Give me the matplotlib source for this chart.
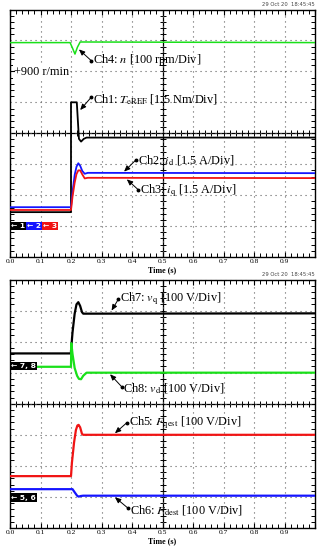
import matplotlib
matplotlib.use("Agg")
import matplotlib.pyplot as plt
import numpy as np

plt.rcParams['font.family'] = ['Liberation Serif', 'DejaVu Serif']
plt.rcParams['mathtext.fontset'] = 'stix'

# --- data (in scope divisions, centre line = 0) ---
t_n = [0, 0.197, 0.205, 0.213, 0.221, 0.23, 1.0]
n_speed = [2.93, 2.93, 2.75, 2.56, 2.78, 2.95, 2.93]

t_te = [0, 0.2, 0.2, 0.219, 0.226, 0.233, 0.242, 0.251, 1.0]
te_ref = [-2.55, -2.55, 1.0, 1.0, -0.18, -0.27, -0.18, -0.14, -0.14]

t_i = [0, 0.2, 0.205, 0.212, 0.218, 0.224, 0.23, 0.237, 0.245, 0.255, 1.0]
i_d = [-2.39, -2.39, -1.9, -1.35, -1.08, -0.97, -1.05, -1.22, -1.31, -1.28, -1.29]
i_q = [-2.48, -2.48, -2.05, -1.6, -1.32, -1.2, -1.2, -1.33, -1.46, -1.44, -1.45]

t_vq = [0, 0.2, 0.2, 0.205, 0.212, 0.218, 0.224, 0.23, 0.236, 0.24, 1.0]
v_q = [1.62, 1.62, 1.7, 2.3, 2.9, 3.2, 3.27, 3.15, 2.95, 2.9, 2.91]

t_vd = [0, 0.2, 0.201, 0.205, 0.212, 0.22, 0.226, 0.233, 0.24, 0.251, 1.0]
v_d = [1.19, 1.19, 1.95, 1.6, 1.15, 0.9, 0.8, 0.79, 0.9, 1.0, 1.0]

t_fq = [0, 0.2, 0.203, 0.21, 0.216, 0.221, 0.225, 0.23, 0.236, 0.24, 1.0]
f_qest = [-2.33, -2.33, -1.9, -1.25, -0.85, -0.7, -0.68, -0.76, -0.97, -1.0, -1.0]

t_fd = [0, 0.205, 0.212, 0.22, 0.225, 0.232, 0.24, 1.0]
f_dest = [-2.75, -2.75, -2.85, -2.96, -2.99, -2.97, -2.96, -2.96]

x_ticks = [0.0, 0.1, 0.2, 0.3, 0.4, 0.5, 0.6, 0.7, 0.8, 0.9]
stamp = "29 Oct 20  18:45:45"

GREEN = "#19e019"
BLUE = "#1414ff"
RED = "#f01414"


def scope_axes(fig, rect):
    ax = fig.add_axes(rect)
    ax.set_xlim(0, 1.0)
    ax.set_ylim(-4, 4)
    ax.set_xticks(np.arange(0, 1.0001, 0.1))
    ax.set_xticklabels(["%.1f" % v for v in x_ticks] + [""], fontsize=5.4)
    ax.set_xticks(np.arange(0, 1.0001, 0.02), minor=True)
    ax.set_yticks(np.arange(-4, 4.01, 1))
    ax.set_yticklabels([])
    ax.set_yticks(np.arange(-4, 4.01, 0.2), minor=True)
    ax.tick_params(which='both', direction='in', top=True, right=True, pad=1.5, color='black')
    ax.tick_params(which='major', length=3.5, width=0.8)
    ax.tick_params(which='minor', length=3.0, width=0.7)
    ax.tick_params(axis='y', which='major', length=0)
    ax.grid(True, which='major', color='#606060', linestyle=(0, (1, 3.5)), lw=0.8)
    for s in ax.spines.values():
        s.set_linewidth(1.0)
    # centre cross with ticks
    ax.axhline(0, color='black', lw=0.9, zorder=1)
    ax.axvline(0.5, color='black', lw=0.9, zorder=1)
    xs = np.arange(0, 1.0001, 0.02)
    ax.plot(xs, np.zeros_like(xs), ls='none', marker='|', ms=4.5, mew=0.7, color='black', zorder=1)
    ys = np.arange(-4, 4.01, 0.2)
    ax.plot(np.full_like(ys, 0.5), ys, ls='none', marker='_', ms=4.5, mew=0.7, color='black', zorder=1)
    ax.set_xlabel("Time (s)", fontsize=5.8, fontweight='bold', labelpad=1.5)
    return ax


def label(ax, text, dot, head, txt):
    ax.annotate("", xy=head, xytext=dot,
                arrowprops=dict(arrowstyle='-|>,head_length=0.35,head_width=0.15', color='black', lw=0.7,
                                shrinkA=0, shrinkB=0), zorder=6)
    ax.plot([dot[0]], [dot[1]], marker='o', ms=1.8, color='black', zorder=6)
    ax.text(txt[0], txt[1], text, fontsize=8.8, va='center', ha='left', zorder=6)


def ground(ax, y, items):
    x = 0.003
    for txt, col in items:
        ax.text(x, y, txt, fontsize=5.4, color='white', fontweight='bold', family='DejaVu Sans',
                va='center', ha='left', transform=ax.get_yaxis_transform(), zorder=7,
                bbox=dict(boxstyle='square,pad=0.15', fc=col, ec='none'))
        x += 0.053


fig = plt.figure(figsize=(3.21, 5.5), dpi=100)

# ---------------- top panel ----------------
ax1 = scope_axes(fig, [10 / 321, 1 - 257 / 550, 305 / 321, 247.5 / 550])
ax1.plot(t_n, n_speed, color=GREEN, lw=1.1, zorder=3)
ax1.plot(t_te, te_ref, color='black', lw=1.3, zorder=3)
ax1.plot(t_i, i_d, color=BLUE, lw=1.3, zorder=3)
ax1.plot(t_i, i_q, color=RED, lw=1.3, zorder=3)

label(ax1, "Ch4: $n$ [100 rpm/Div]", (0.266, 2.35), (0.226, 2.71), (0.272, 2.37))
label(ax1, r"Ch1: $T_{\mathrm{eREF}}$ [1.5 Nm/Div]", (0.266, 1.16), (0.23, 0.75), (0.272, 1.12))
label(ax1, r"Ch2: $i_{\mathrm{d}}$ [1.5 A/Div]", (0.413, -0.86), (0.374, -1.24), (0.419, -0.86))
label(ax1, r"Ch3: $i_{\mathrm{q}}$ [1.5 A/Div]", (0.421, -1.83), (0.383, -1.49), (0.427, -1.86))
ax1.text(0.012, 1.98, "+900 r/min", fontsize=8.8, va='center', ha='left', zorder=6,
         bbox=dict(boxstyle='square,pad=0.05', fc='white', ec='none'))
ax1.plot([0, 0.012], [2.0, 2.0], color='black', lw=0.8, zorder=6)
ground(ax1, -3.0, [("\u2190 1", 'black'), ("\u2190 2", BLUE), ("\u2190 3", RED)])
fig.text(315 / 321, 1 - 5 / 550, stamp, fontsize=3.8, ha='right', va='center', color='#444444',
         family='DejaVu Sans')

# ---------------- bottom panel ----------------
ax2 = scope_axes(fig, [10 / 321, 1 - 528 / 550, 305 / 321, 248.5 / 550])
ax2.plot(t_vq, v_q, color='black', lw=1.6, zorder=3)
ax2.plot(t_vd, v_d, color=GREEN, lw=1.6, zorder=3)
ax2.plot(t_fq, f_qest, color=RED, lw=1.6, zorder=3)
ax2.plot(t_fd, f_dest, color=BLUE, lw=1.6, zorder=3)

label(ax2, r"Ch7: $v_{\mathrm{q}}$ [100 V/Div]", (0.355, 3.36), (0.333, 3.0), (0.361, 3.37))
label(ax2, r"Ch8: $v_{\mathrm{d}}$ [100 V/Div]", (0.366, 0.55), (0.328, 0.95), (0.372, 0.52))
label(ax2, r"Ch5: $F_{\mathrm{qest}}$ [100 V/Div]", (0.383, -0.61), (0.344, -0.95), (0.389, -0.61))
label(ax2, r"Ch6: $F_{\mathrm{dest}}$ [100 V/Div]", (0.388, -3.37), (0.344, -3.01), (0.394, -3.42))
ground(ax2, 1.22, [("\u2190 7, 8", 'black')])
ground(ax2, -3.02, [("\u2190 5, 6", 'black')])
fig.text(315 / 321, 1 - 275 / 550, stamp, fontsize=3.8, ha='right', va='center', color='#444444',
         family='DejaVu Sans')

fig.savefig("out.png", dpi=100)
